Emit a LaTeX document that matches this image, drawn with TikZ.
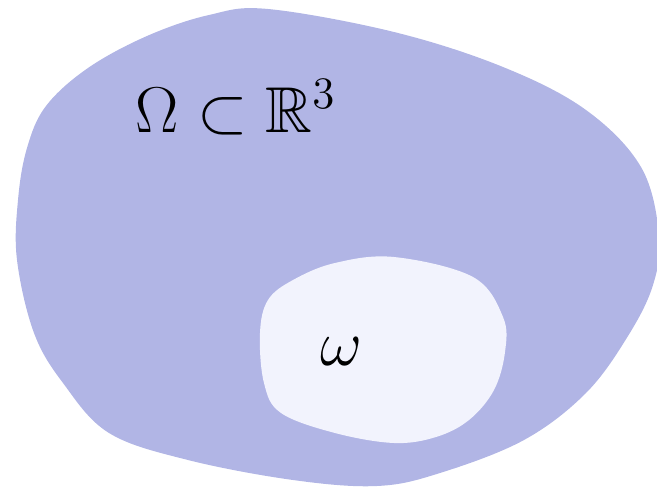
\documentclass[tikz,border=0pt]{standalone}
\usepackage{amssymb}
\definecolor{outerblue}{RGB}{177,181,229}
\definecolor{innerwhite}{RGB}{242,243,253}
\begin{document}
\begin{tikzpicture}[x=1pt,y=-1pt,
  region/.style={draw=none},
  lbl/.style={inner sep=0pt,anchor=base,scale=3.75,font=\LARGE}]
\useasboundingbox (0,0) rectangle (657,487);
\fill[outerblue,region] plot[smooth cycle,tension=0.6] coordinates {
 (268,9) (394,32) (503,67) (586,110) (641,167) (659,235) (653,285)
 (628,336) (586,393) (524,440) (440,473) (377,486) (293,480) (188,460)
 (109,433) (63,383) (34,333) (17,260) (18,200) (27,148) (46,106)
 (88,68) (147,36) (209,15)};
\fill[innerwhite,region] plot[smooth cycle,tension=0.6] coordinates {
 (394,257) (473,277) (503,317) (505,352) (494,390) (469,420) (436,437)
 (394,443) (335,433) (281,413) (264,383) (260,333) (268,300) (293,280)
 (335,263)};
\node[lbl] (Om) at (236,132) {$\Omega\subset\mathbb{R}^3$};
\node[lbl] (om) at (341,365) {$\omega$};
\end{tikzpicture}
\end{document}
